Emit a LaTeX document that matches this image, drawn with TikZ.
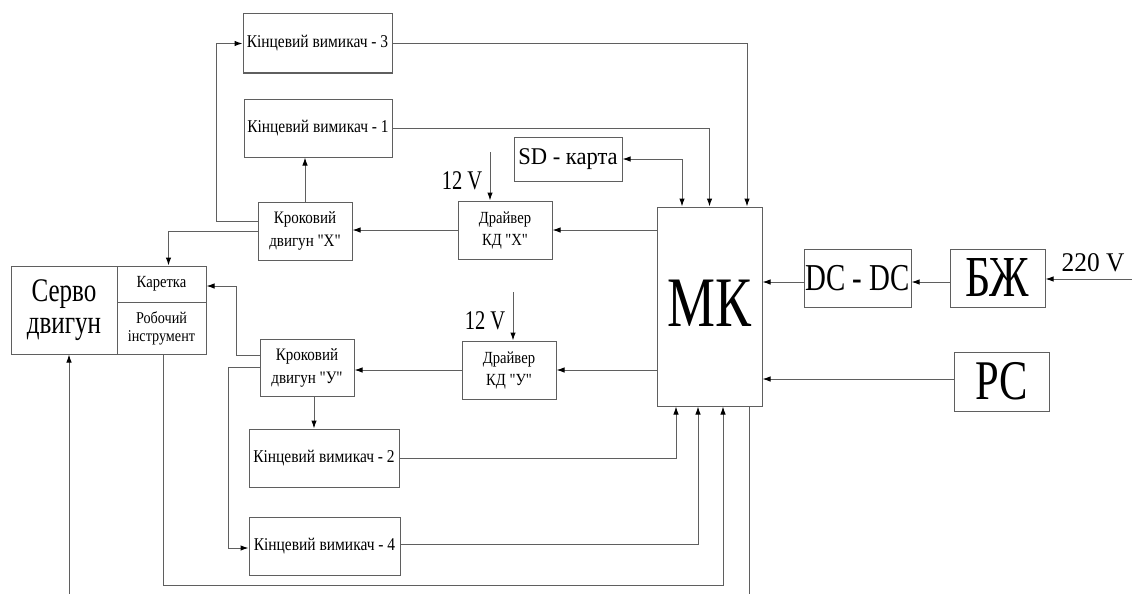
\documentclass[tikz,border=0pt]{standalone}
\usepackage{fontspec}
\setmainfont[FakeStretch=0.86]{Liberation Serif}
\newfontfamily\basef[FakeStretch=0.86]{Liberation Serif}
\newfontfamily\narrowf[FakeStretch=0.76]{Liberation Serif}
\newfontfamily\widef[FakeStretch=0.94]{Liberation Serif}
\usetikzlibrary{arrows.meta}
\definecolor{ln}{RGB}{95,95,95}
\tikzset{
  box/.style={draw=ln, line width=1pt, inner sep=0pt, align=center, text=black},
  wire/.style={draw=ln, line width=1pt},
  arr/.style={wire, -{Latex[length=8pt,width=5.5pt,black]}},
  arrb/.style={wire, {Latex[length=8pt,width=5.5pt,black]}-{Latex[length=8pt,width=5.5pt,black]}},
  kvf/.style={font=\basef\fontsize{18}{22}\selectfont},
  kdf/.style={font=\basef\fontsize{17.5}{23}\selectfont},
  drf/.style={font=\basef\fontsize{17}{22}\selectfont},
}
\begin{document}
\begin{tikzpicture}[x=1pt,y=-1pt]
\useasboundingbox[fill=white] (0,0) rectangle (1132,594);
% boxes
\node[box,kvf,minimum width=149pt,minimum height=59pt] (kv3) at (317.5,43.5) {Кінцевий вимикач - 3};
\node[box,kvf,minimum width=148pt,minimum height=58pt] (kv1) at (318,128) {Кінцевий вимикач - 1};
\node[box,minimum width=108pt,minimum height=44pt,font=\widef\fontsize{24}{28}\selectfont] (sd) at (568,159) {SD - карта};
\node[box,minimum width=105pt,minimum height=199pt,font=\narrowf\fontsize{71}{80}\selectfont] (mk) at (709.5,306.5) {\raisebox{6pt}{МК}};
\node[box,kdf,minimum width=94pt,minimum height=58pt] (kdx) at (305,231) {Кроковий\\двигун "Х"};
\node[box,drf,minimum width=94pt,minimum height=58pt] (drx) at (505,230) {Драйвер\\КД "Х"};
\node[box,minimum width=106pt,minimum height=88pt,font=\narrowf\fontsize{33}{32}\selectfont] (sv) at (64,310) {Серво\\двигун};
\node[box,minimum width=89pt,minimum height=36pt,font=\basef\fontsize{17}{20}\selectfont] (kar) at (161.5,284) {Каретка};
\node[box,minimum width=89pt,minimum height=52pt,font=\basef\fontsize{16.5}{18}\selectfont] (rob) at (161.5,328) {Робочий\\інструмент};
\node[box,kdf,minimum width=94pt,minimum height=57pt] (kdy) at (307,367.5) {Кроковий\\двигун "У"};
\node[box,kvf,minimum width=150pt,minimum height=58pt] (kv2) at (324,458) {Кінцевий вимикач - 2};
\node[box,kvf,minimum width=151pt,minimum height=58pt] (kv4) at (324.5,546) {Кінцевий вимикач - 4};
\node[box,drf,minimum width=94pt,minimum height=58pt] (dry) at (509,370) {Драйвер\\КД "У"};
\node[box,minimum width=107pt,minimum height=58pt,font=\narrowf\fontsize{38}{40}\selectfont] (dc) at (857.5,278) {DC - DC};
\node[box,minimum width=95pt,minimum height=58pt,font=\narrowf\fontsize{58}{60}\selectfont] (bj) at (997.5,278) {БЖ};
\node[box,minimum width=95pt,minimum height=59pt,font=\narrowf\fontsize{56}{60}\selectfont] (pc) at (1001.5,381.5) {РС};
% labels
\node[font=\narrowf\fontsize{27}{30}\selectfont,inner sep=0pt] (l12x) at (462,181) {12 V};
\node[font=\narrowf\fontsize{27}{30}\selectfont,inner sep=0pt] (l12y) at (485,321) {12 V};
\node[font=\widef\fontsize{27}{30}\selectfont,inner sep=0pt] (l220) at (1093,263) {220 V};
% free ends
\coordinate (v12x) at (490,152);
\coordinate (v12y) at (513,292);
\coordinate (in220) at (1132,279);
\coordinate (svin) at (69,594);
% connectors
\draw[arr] (kv3.east) -| ([xshift=37.5pt]mk.north);
\draw[arr] (kv1.east) -| (mk.north);
\draw[arrb] (sd.east) -| ([xshift=-27.5pt]mk.north);
\draw[arr] (mk.west |- drx.east) -- (drx.east);
\draw[arr] (drx.west) -- (drx.west -| kdx.east);
\draw[arr] (v12x) -- (v12x |- drx.north);
\draw[arr] (kdx.north) -- (kdx.north |- kv1.south);
\draw[arr] ([yshift=10pt]kdx.west) -- ++(-41,0) |- (kv3.west);
\draw[arr] (kdx.west) -| ([xshift=7pt]kar.north);
\draw[arr] ([yshift=12pt]kdy.west) -- ++(-23,0) |- ([yshift=-2pt]kar.east);
\draw[arr] (kdy.west) -- ++(-31,0) |- ([yshift=-2pt]kv4.west);
\draw[arr] ([xshift=7pt]kdy.south) -- ([xshift=7pt]kdy.south |- kv2.north);
\draw[arr] (mk.west |- dry.east) -- (dry.east);
\draw[arr] (dry.west) -- (dry.west -| kdy.east);
\draw[arr] (v12y) -- (v12y |- dry.north);
\draw[arr] (kv2.east) -| ([xshift=-33.5pt]mk.south);
\draw[arr] ([yshift=2pt]kv4.east) -| ([xshift=-11.5pt]mk.south);
\draw[arr] ([xshift=1.5pt]rob.south) -- ++(0,231) -| ([xshift=13.5pt]mk.south);
\draw[arr] (svin) -- (svin |- sv.south);
\draw[wire] ([xshift=39.5pt]mk.south) -- ++(0,188);
\draw[arr] ([yshift=-4pt]dc.west) -- ([yshift=-4pt]dc.west -| mk.east);
\draw[arr] ([yshift=-4pt]bj.west) -- ([yshift=-4pt]bj.west -| dc.east);
\draw[arr] (in220) -- (in220 -| bj.east);
\draw[arr] ([yshift=2.5pt]pc.west) -- ([yshift=2.5pt]pc.west -| mk.east);
\end{tikzpicture}
\end{document}
